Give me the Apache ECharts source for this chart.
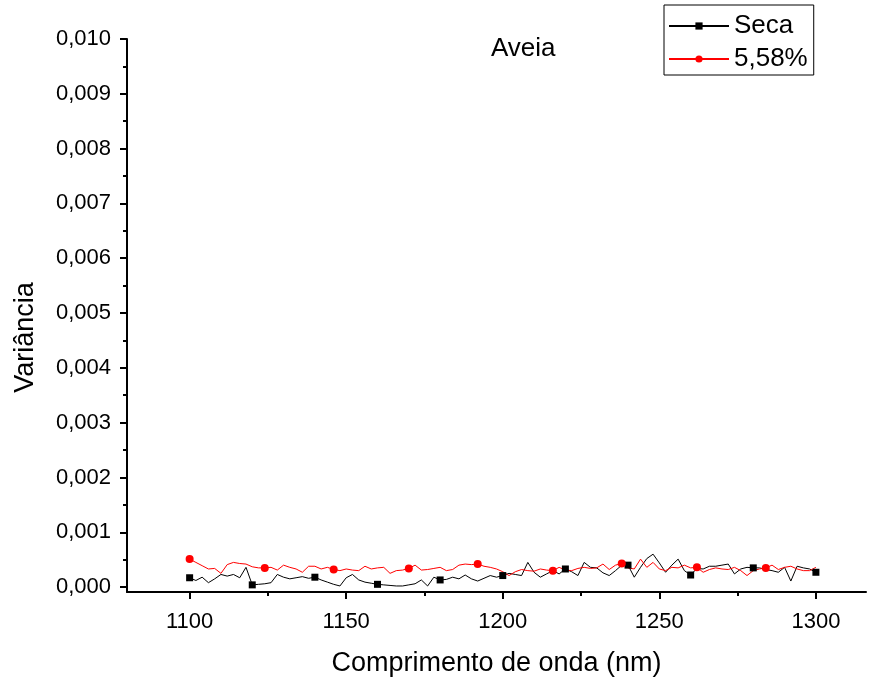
<!DOCTYPE html>
<html>
<head>
<meta charset="utf-8">
<script src="https://cdn.jsdelivr.net/npm/echarts@6/dist/echarts.min.js"></script>
<style>
  html, body { margin: 0; padding: 0; background: #fff; }
  #chart { width: 869px; height: 680px; }
</style>
</head>
<body>
<div id="chart"></div>
<script>
// comprimento de onda (nm), passo de 2 nm
const wavelengths = [
  1100, 1102, 1104, 1106, 1108, 1110, 1112, 1114, 1116, 1118,
  1120, 1122, 1124, 1126, 1128, 1130, 1132, 1134, 1136, 1138,
  1140, 1142, 1144, 1146, 1148, 1150, 1152, 1154, 1156, 1158,
  1160, 1162, 1164, 1166, 1168, 1170, 1172, 1174, 1176, 1178,
  1180, 1182, 1184, 1186, 1188, 1190, 1192, 1194, 1196, 1198,
  1200, 1202, 1204, 1206, 1208, 1210, 1212, 1214, 1216, 1218,
  1220, 1222, 1224, 1226, 1228, 1230, 1232, 1234, 1236, 1238,
  1240, 1242, 1244, 1246, 1248, 1250, 1252, 1254, 1256, 1258,
  1260, 1262, 1264, 1266, 1268, 1270, 1272, 1274, 1276, 1278,
  1280, 1282, 1284, 1286, 1288, 1290, 1292, 1294, 1296, 1298,
  1300
];

const seca = [
  0.00017, 0.00012, 0.00018, 0.00008, 0.00015, 0.00023, 0.00020, 0.00023, 0.00017, 0.00036,
  0.00004, 0.00005, 0.00006, 0.00008, 0.00023, 0.00018, 0.00015, 0.00017, 0.00019, 0.00016,
  0.00018, 0.00013, 0.00009, 0.00005, 0.00002, 0.00017, 0.00023, 0.00013, 0.00009, 0.00007,
  0.00005, 0.00004, 0.00003, 0.00002, 0.00002, 0.00004, 0.00006, 0.00013, 0.00002, 0.00018,
  0.00013, 0.00014, 0.00018, 0.00015, 0.00022, 0.00015, 0.00011, 0.00016, 0.00021, 0.00018,
  0.00021, 0.00025, 0.00023, 0.00021, 0.00045, 0.00027, 0.00018, 0.00024, 0.00030, 0.00024,
  0.00033, 0.00028, 0.00021, 0.00045, 0.00036, 0.00035, 0.00026, 0.00021, 0.00030, 0.00040,
  0.00040, 0.00018, 0.00036, 0.00052, 0.00060, 0.00044, 0.00027, 0.00040, 0.00051, 0.00030,
  0.00022, 0.00034, 0.00033, 0.00038, 0.00038, 0.00040, 0.00042, 0.00024, 0.00033, 0.00036,
  0.00035, 0.00035, 0.00032, 0.00030, 0.00027, 0.00036, 0.00011, 0.00038, 0.00035, 0.00033,
  0.00027
];

const umidade = [
  0.00051, 0.00045, 0.00039, 0.00033, 0.00034, 0.00025, 0.00041, 0.00045, 0.00043, 0.00042,
  0.00037, 0.00035, 0.00035, 0.00036, 0.00031, 0.00040, 0.00036, 0.00033, 0.00027, 0.00038,
  0.00038, 0.00033, 0.00036, 0.00032, 0.00030, 0.00033, 0.00031, 0.00030, 0.00038, 0.00033,
  0.00035, 0.00036, 0.00025, 0.00030, 0.00031, 0.00034, 0.00040, 0.00031, 0.00032, 0.00034,
  0.00036, 0.00030, 0.00032, 0.00040, 0.00042, 0.00041, 0.00042, 0.00038, 0.00036, 0.00033,
  0.00028, 0.00021, 0.00028, 0.00032, 0.00030, 0.00029, 0.00033, 0.00031, 0.00030, 0.00036,
  0.00031, 0.00030, 0.00034, 0.00036, 0.00034, 0.00035, 0.00042, 0.00032, 0.00040, 0.00043,
  0.00035, 0.00033, 0.00051, 0.00036, 0.00045, 0.00033, 0.00030, 0.00036, 0.00035, 0.00040,
  0.00035, 0.00036, 0.00027, 0.00032, 0.00035, 0.00033, 0.00032, 0.00036, 0.00030, 0.00021,
  0.00030, 0.00033, 0.00035, 0.00040, 0.00032, 0.00036, 0.00038, 0.00033, 0.00030, 0.00030,
  0.00036
];

// pontos que levam marcador
const secaMarks = [0, 10, 20, 30, 40, 50, 60, 70, 80, 90, 100];
const umidadeMarks = [0, 12, 23, 35, 46, 58, 69, 81, 92];

const xTicks = [1100, 1150, 1200, 1250, 1300];
const xMinorTicks = [1125, 1175, 1225, 1275];
const yTicks = [0, 0.001, 0.002, 0.003, 0.004, 0.005, 0.006, 0.007, 0.008, 0.009, 0.010];
const yMinorTicks = [0.0005, 0.0015, 0.0025, 0.0035, 0.0045, 0.0055, 0.0065, 0.0075, 0.0085, 0.0095];

const font = 'Liberation Sans, Arial, sans-serif';
const xMin = 1080, xMax = 1316;
const yMin = -0.00009, yMax = 0.010;

const pairs = (ys) => ys.map((v, i) => [wavelengths[i], v]);

const chart = echarts.init(document.getElementById('chart'));

const axisLineStyle = { color: '#000', width: 2 };

chart.setOption({
  animation: false,
  backgroundColor: '#fff',
  title: {
    text: 'Aveia',
    left: 486,
    top: 31,
    textStyle: { fontFamily: font, fontSize: 26, fontWeight: 'normal', color: '#000' }
  },
  legend: {
    left: 664,
    top: 5,
    orient: 'vertical',
    padding: [6, 6, 1, 4],
    itemWidth: 60,
    itemHeight: 9,
    itemGap: 3,
    borderColor: '#000',
    borderWidth: 1,
    textStyle: { fontFamily: font, fontSize: 26, color: '#000', lineHeight: 30 },
    data: ['Seca', '5,58%']
  },
  grid: {
    left: 127,
    right: 3,
    top: 39,
    bottom: 88,
    containLabel: false,
    outerBoundsMode: 'none'
  },
  xAxis: [
    {
      type: 'value',
      min: xMin,
      max: xMax,
      position: 'bottom',
      axisLine: { onZero: false, lineStyle: axisLineStyle },
      axisTick: { customValues: xTicks, length: 7, lineStyle: axisLineStyle },
      axisLabel: {
        customValues: xTicks,
        margin: 19,
        color: '#000',
        fontFamily: font,
        fontSize: 22,
        formatter: (v) => String(v)
      },
      splitLine: { show: false },
      name: 'Comprimento de onda (nm)',
      nameLocation: 'middle',
      nameGap: 58,
      nameTextStyle: { fontFamily: font, fontSize: 27, color: '#000' }
    },
    {
      type: 'value',
      min: xMin,
      max: xMax,
      position: 'bottom',
      axisLine: { show: false, onZero: false },
      axisTick: { customValues: xMinorTicks, length: 4, lineStyle: axisLineStyle },
      axisLabel: { show: false },
      splitLine: { show: false }
    }
  ],
  yAxis: [
    {
      type: 'value',
      min: yMin,
      max: yMax,
      position: 'left',
      axisLine: { show: true, onZero: false, lineStyle: axisLineStyle },
      axisTick: { show: true, customValues: yTicks, length: 7, lineStyle: axisLineStyle },
      axisLabel: {
        customValues: yTicks,
        margin: 16,
        color: '#000',
        fontFamily: font,
        fontSize: 22,
        formatter: (v) => v.toFixed(3).replace('.', ',')
      },
      splitLine: { show: false },
      name: 'Variância',
      nameLocation: 'middle',
      nameGap: 88,
      nameTextStyle: { fontFamily: font, fontSize: 27, color: '#000', padding: [0, 44, 0, 0] }
    },
    {
      type: 'value',
      min: yMin,
      max: yMax,
      position: 'left',
      axisLine: { show: false, onZero: false },
      axisTick: { show: true, customValues: yMinorTicks, length: 4, lineStyle: axisLineStyle },
      axisLabel: { show: false },
      splitLine: { show: false }
    }
  ],
  series: [
    {
      name: 'Seca',
      type: 'line',
      xAxisIndex: 0,
      yAxisIndex: 0,
      data: pairs(seca),
      symbol: 'rect',
      showAllSymbol: true,
      symbolSize: (val, params) => (secaMarks.includes(params.dataIndex) ? 7 : 0),
      lineStyle: { color: '#000', width: 1 },
      itemStyle: { color: '#000' },
      emphasis: { disabled: true }
    },
    {
      name: '5,58%',
      type: 'line',
      xAxisIndex: 0,
      yAxisIndex: 0,
      data: pairs(umidade),
      symbol: 'circle',
      showAllSymbol: true,
      symbolSize: (val, params) => (umidadeMarks.includes(params.dataIndex) ? 8 : 0),
      lineStyle: { color: '#ff0000', width: 1 },
      itemStyle: { color: '#ff0000' },
      emphasis: { disabled: true }
    }
  ]
});
</script>
</body>
</html>
